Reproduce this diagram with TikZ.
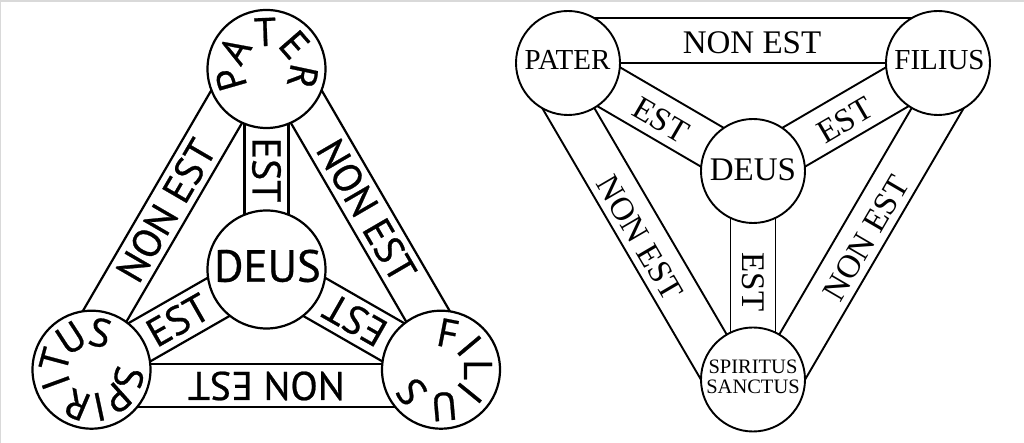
\documentclass[tikz,border=0pt]{standalone}
\usepackage{fontspec}
\usetikzlibrary{calc,backgrounds}
\newfontfamily\lsans{PT Sans}[FakeBold=0.6]
\newfontfamily\rserif{Liberation Serif}
\begin{document}
\begin{tikzpicture}[x=1bp,y=1bp,
  circL/.style={circle, draw, line width=2.2bp, fill=white, minimum size=118bp, inner sep=0pt},
  circR/.style={circle, draw, line width=1.9bp, fill=white, minimum size=104bp, inner sep=0pt},
  bandL/.style={line width=2.2bp},
  bandR/.style={line width=1.9bp},
  llab/.style={font=\lsans\fontsize{40bp}{40bp}\selectfont, inner sep=0pt, text height=28bp, text depth=0pt},
  ldeus/.style={font=\lsans\fontsize{45bp}{45bp}\selectfont, inner sep=0pt, text height=31.5bp, text depth=0pt},
  rlab/.style={font=\rserif\fontsize{33bp}{33bp}\selectfont, inner sep=0pt, text height=21.8bp, text depth=0pt},
  rname/.style={font=\rserif\fontsize{29bp}{29bp}\selectfont, inner sep=0pt, text height=19.2bp, text depth=0pt},
  rsmall/.style={font=\rserif\fontsize{20.5bp}{20bp}\selectfont, inner sep=0pt, align=center},
]
\useasboundingbox (0,0) rectangle (1024,443);
\fill[gray!30] (0,441.3) rectangle (1024,443);
\fill[gray!30] (0,0) rectangle (1.2,443);

% ---------- left diagram ----------
\node[circL] (PL) at (266.5,374) {};
\node[circL] (DL) at (266.5,173.5) {};
\node[circL] (SL) at (91.5,73.3) {};
\node[circL] (FL) at (441,73.3) {};

\begin{scope}[on background layer]
  \foreach \a/\b in {PL/DL, SL/DL, FL/DL}{
    \draw[bandL] ($(\a)!22bp!90:(\b)$) -- ($(\b)!22bp!-90:(\a)$);
    \draw[bandL] ($(\a)!22bp!-90:(\b)$) -- ($(\b)!22bp!90:(\a)$);
  }
  \foreach \a/\b in {SL/PL, PL/FL, FL/SL}{
    \draw[bandL] ($(\a)!37bp!90:(\b)$) -- ($(\b)!37bp!-90:(\a)$);
    \draw[bandL] ($(\a)!6bp!-90:(\b)$) -- ($(\b)!6bp!90:(\a)$);
  }
\end{scope}

\node[ldeus] (deusL) at (267.5,177) {DEUS};
\node[llab, rotate=-90] (estPL) at (266.5,273) {EST};
\node[llab, rotate=29.7] (estSL) at (178,123) {EST};
\node[llab, rotate=150.3] (estFL) at (355,123) {EST};
\node[llab, rotate=59.8] (nonSP) at (166,232.5) {NON EST};
\node[llab, rotate=-59.8] (nonPF) at (366.5,232.5) {NON EST};
\node[llab, rotate=180] (nonFS) at (266.3,57) {NON EST};

\foreach \ch/\ang [count=\i] in {P/196,A/149,T/92,E/41,R/-12}{
  \pgfmathsetmacro\rot{\ang-90}
  \node[llab, rotate=\rot] (pl\i) at ($(PL)+(\ang:37)$) {\ch};
}
\foreach \ch/\ang [count=\i] in {F/79,I/40,L/0,I/-39,U/-85,S/-143}{
  \pgfmathsetmacro\rot{\ang-90}
  \node[llab, rotate=\rot] (fl\i) at ($(FL)+(\ang:37)$) {\ch};
}
\foreach \ch/\ang [count=\i] in {S/-12,P/-48,I/-78,R/-113,I/-160,T/-195,U/-237,S/-283}{
  \pgfmathsetmacro\rot{\ang-90}
  \node[llab, rotate=\rot] (sl\i) at ($(SL)+(\ang:38)$) {\ch};
}

% ---------- right diagram ----------
\node[circR] (PR) at (568,380) {};
\node[circR] (FR) at (938,380) {};
\node[circR] (DR) at (753,272) {};
\node[circR] (SR) at (753,63.5) {};

\begin{scope}[on background layer]
  \foreach \a/\b in {PR/DR, FR/DR, SR/DR}{
    \draw[bandR] ($(\a)!22.5bp!90:(\b)$) -- ($(\b)!22.5bp!-90:(\a)$);
    \draw[bandR] ($(\a)!22.5bp!-90:(\b)$) -- ($(\b)!22.5bp!90:(\a)$);
  }
  \foreach \a/\b in {PR/FR, FR/SR, SR/PR}{
    \draw[bandR] ($(\a)!45bp!90:(\b)$) -- ($(\b)!45bp!-90:(\a)$);
    \draw[bandR] (\a.center) -- (\b.center);
  }
\end{scope}

\node[rname] (paterR) at (567.5,383) {PATER};
\node[rname] (filiusR) at (939.5,383) {FILIUS};
\node[rlab] (deusR) at (753,273) {DEUS};
\node[rsmall] (spirR) at (753,66) {SPIRITUS\\SANCTUS};
\node[rlab] (nonPFR) at (752,400) {NON EST};
\node[rlab, rotate=-30.3] (estPR) at (661,323) {EST};
\node[rlab, rotate=30.3] (estFR) at (845,323) {EST};
\node[rlab, rotate=-90] (estSR) at (753,161) {EST};
\node[rlab, rotate=-59.7] (nonPSR) at (640,205) {NON EST};
\node[rlab, rotate=59.7] (nonSFR) at (866,205) {NON EST};
\end{tikzpicture}
\end{document}
